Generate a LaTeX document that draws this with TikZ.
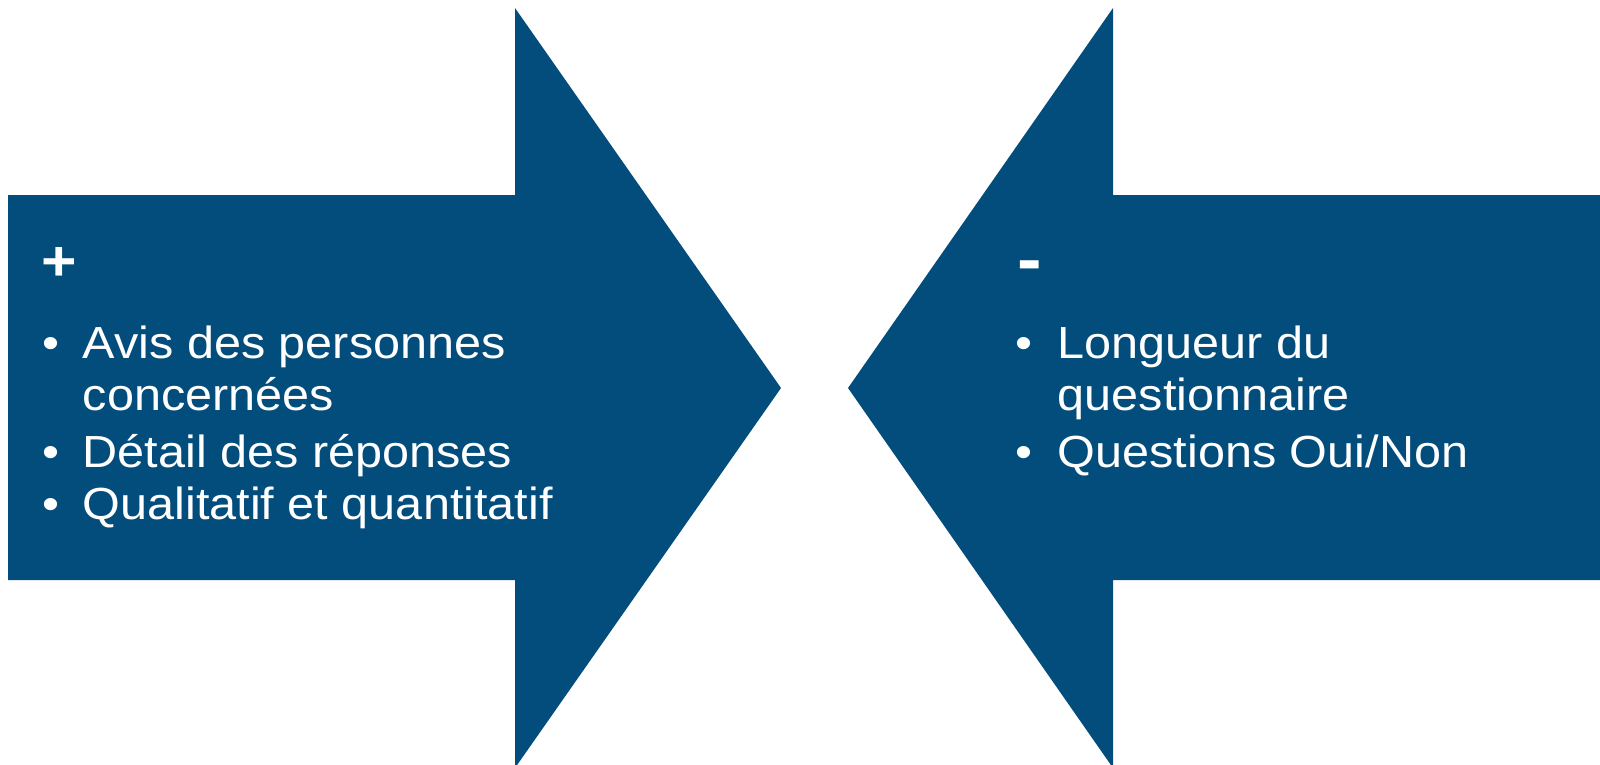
\documentclass[tikz,border=0pt]{standalone}
\usepackage{fontspec}
\setmainfont{Liberation Sans}
\usepackage{tikz}
\usetikzlibrary{positioning}
\definecolor{arrowblue}{RGB}{3,77,124}
\tikzset{pro con/.style={draw=none,fill=arrowblue},
	item text/.style={text=white,inner sep=0,anchor=base west,xscale=1.08,transform shape,font=\fontsize{12.8}{15}\selectfont},
	item mark/.style={item text},
	sign text/.style={item text,font=\fontsize{19.4}{22}\selectfont\bfseries}}

\begin{document}
\begin{tikzpicture}
		\useasboundingbox (0,0) rectangle (16,7.64);
		
		% fleche de gauche
		\fill[pro con] (0.082,1.84) -- (5.15,1.84) -- (5.15,-0.04) -- (7.81,3.76) -- (5.15,7.56) -- (5.15,5.69) -- (0.082,5.69) -- cycle;
		
		% fleche de droite
		\fill[pro con] (16.1,5.69) -- (11.13,5.69) -- (11.13,7.56) -- (8.48,3.76) -- (11.13,-0.04) -- (11.13,1.84) -- (16.1,1.84) -- cycle;
		
		
		\node[sign text,font=\fontsize{16}{19}\selectfont\bfseries] (plus) at (0.41,4.84) {+};
		
		\node[item mark] (b1) at (0.415,4.055) {•};
		\node[item text] (avis) at (0.82,4.055) {Avis des personnes};
		\node[item text] (concernees) at (0.82,3.54) {concernées};
		\node[item mark] (b2) at (0.415,2.97) {•};
		\node[item text] (detail) at (0.82,2.97) {Détail des réponses};
		\node[item mark] (b3) at (0.415,2.45) {•};
		\node[item text] (quali) at (0.82,2.45) {Qualitatif et quantitatif};
		
		
		\node[sign text] (moins) at (10.17,4.815) {-};
		
		\node[item mark] (b4) at (10.145,4.055) {•};
		\node[item text] (longueur) at (10.57,4.055) {Longueur du};
		\node[item text] (questionnaire) at (10.57,3.54) {questionnaire};
		\node[item mark] (b5) at (10.145,2.97) {•};
		\node[item text] (ouinon) at (10.57,2.97) {Questions Oui/Non};
		
	\end{tikzpicture}
\end{document}
